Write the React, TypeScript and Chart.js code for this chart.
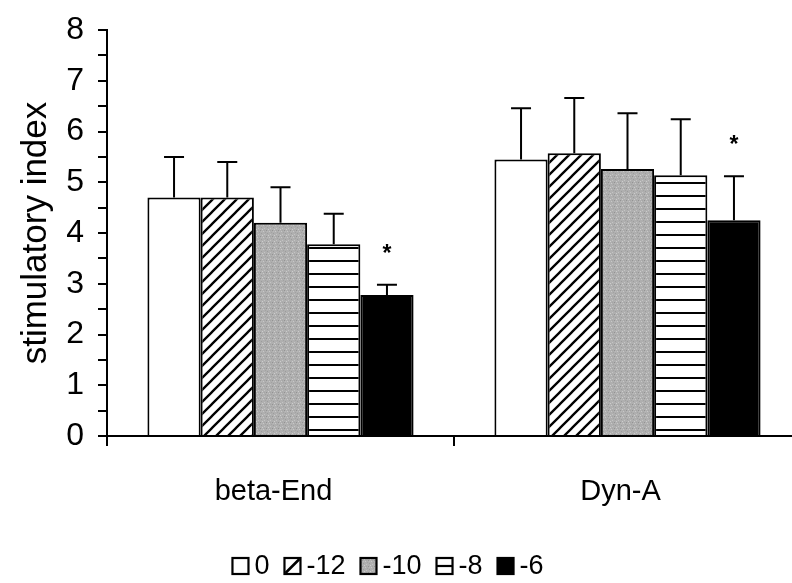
import React, { useEffect, useRef } from 'react';
import { Chart, registerables } from 'chart.js';

Chart.register(...registerables);

const FONT = '"Liberation Sans", Arial, Helvetica, sans-serif';

// ---- data ----
const categories = ['beta-End', 'Dyn-A'];
const seriesLabels = ['0', '-12', '-10', '-8', '-6'];
const values0 = [4.7, 5.45];
const values12 = [4.7, 5.57];
const values10 = [4.2, 5.26];
const values8 = [3.78, 5.14];
const values6 = [2.78, 4.25];
const errors0 = [0.8, 1.01];
const errors12 = [0.7, 1.09];
const errors10 = [0.7, 1.1];
const errors8 = [0.6, 1.1];
const errors6 = [0.2, 0.87];
const marks0 = ['', ''];
const marks12 = ['', ''];
const marks10 = ['', ''];
const marks8 = ['', ''];
const marks6 = ['*', '*'];
const yMin = 0;
const yMax = 8;
const yStep = 0.5;
const yTitle = 'stimulatory index';

const allValues = [values0, values12, values10, values8, values6];
const allErrors = [errors0, errors12, errors10, errors8, errors6];
const allMarks = [marks0, marks12, marks10, marks8, marks6];
const legendGlyphs = ['plain', 'diag', 'plain', 'hline', 'plain'];

function makeHatch(): CanvasPattern | string {
  const c = document.createElement('canvas');
  c.width = 12;
  c.height = 12;
  const g = c.getContext('2d');
  if (!g) return '#fff';
  g.fillStyle = '#fff';
  g.fillRect(0, 0, 12, 12);
  g.strokeStyle = '#000';
  g.lineWidth = 2.3;
  g.beginPath();
  g.moveTo(0, 12);
  g.lineTo(12, 0);
  g.moveTo(-3, 3);
  g.lineTo(3, -3);
  g.moveTo(9, 15);
  g.lineTo(15, 9);
  g.stroke();
  return g.createPattern(c, 'repeat') || '#fff';
}

function makeGray(): CanvasPattern | string {
  const c = document.createElement('canvas');
  c.width = 6;
  c.height = 6;
  const g = c.getContext('2d');
  if (!g) return '#adadad';
  g.fillStyle = '#afafaf';
  g.fillRect(0, 0, 6, 6);
  const specks: [number, number, string][] = [
    [0, 0, '#939393'], [3, 1, '#c8c8c8'], [1, 3, '#9c9c9c'],
    [4, 4, '#c4c4c4'], [5, 2, '#a2a2a2'], [2, 5, '#cdcdcd'],
    [1, 1, '#bababa'], [4, 0, '#a5a5a5'],
  ];
  specks.forEach(([x, y, col]) => {
    g.fillStyle = col;
    g.fillRect(x, y, 1, 1);
  });
  return g.createPattern(c, 'repeat') || '#afafaf';
}

function makeHorizontal(): CanvasPattern | string {
  const c = document.createElement('canvas');
  c.width = 4;
  c.height = 13;
  const g = c.getContext('2d');
  if (!g) return '#fff';
  g.fillStyle = '#fff';
  g.fillRect(0, 0, 4, 13);
  g.fillStyle = '#000';
  g.fillRect(0, 5, 4, 2);
  return g.createPattern(c, 'repeat') || '#fff';
}

const errorBarPlugin = {
  id: 'errorBars',
  afterDatasetsDraw(chart: any) {
    const ctx = chart.ctx as CanvasRenderingContext2D;
    const yScale = chart.scales.y;
    chart.data.datasets.forEach((_ds: any, i: number) => {
      const meta = chart.getDatasetMeta(i);
      meta.data.forEach((bar: any, j: number) => {
        const v = allValues[i][j];
        const e = allErrors[i][j];
        const yTop = yScale.getPixelForValue(v + e);
        ctx.save();
        ctx.strokeStyle = '#000';
        ctx.lineWidth = 2;
        ctx.beginPath();
        ctx.moveTo(bar.x, bar.y);
        ctx.lineTo(bar.x, yTop);
        ctx.moveTo(bar.x - 10, yTop);
        ctx.lineTo(bar.x + 10, yTop);
        ctx.stroke();
        const m = allMarks[i][j];
        if (m) {
          ctx.fillStyle = '#000';
          ctx.font = `bold 23px ${FONT}`;
          ctx.textAlign = 'center';
          ctx.textBaseline = 'alphabetic';
          ctx.fillText(m, bar.x, yTop - 24);
        }
        ctx.restore();
      });
    });
  },
};

const legendPlugin = {
  id: 'patternLegend',
  afterDraw(chart: any) {
    const ctx = chart.ctx as CanvasRenderingContext2D;
    const box = 16;
    const gapText = 6;
    const gapItem = 15;
    const cx = 380;
    const cy = 558;
    ctx.save();
    ctx.font = `27px ${FONT}`;
    const items = chart.data.datasets.map((ds: any, i: number) => ({
      label: String(ds.label),
      w: ctx.measureText(String(ds.label)).width,
      fill: ds.backgroundColor,
      glyph: legendGlyphs[i],
    }));
    const total =
      items.reduce((s: number, it: any) => s + box + gapText + it.w, 0) + gapItem * (items.length - 1);
    let x = cx - total / 2;
    items.forEach((it: any) => {
      const top = cy - box / 2;
      ctx.lineWidth = 2.2;
      ctx.strokeStyle = '#000';
      if (it.glyph === 'diag') {
        ctx.fillStyle = '#fff';
        ctx.fillRect(x, top, box, box);
        ctx.beginPath();
        ctx.moveTo(x + 1, top + box - 1);
        ctx.lineTo(x + box - 1, top + 1);
        ctx.lineWidth = 2.5;
        ctx.stroke();
        ctx.lineWidth = 2.2;
      } else if (it.glyph === 'hline') {
        ctx.fillStyle = '#fff';
        ctx.fillRect(x, top, box, box);
        ctx.beginPath();
        ctx.moveTo(x, top + box / 2);
        ctx.lineTo(x + box, top + box / 2);
        ctx.stroke();
      } else {
        ctx.fillStyle = it.fill;
        ctx.fillRect(x, top, box, box);
      }
      ctx.strokeRect(x, top, box, box);
      x += box + gapText;
      ctx.fillStyle = '#000';
      ctx.textAlign = 'left';
      ctx.textBaseline = 'middle';
      ctx.fillText(it.label, x, cy + 1);
      x += it.w + gapItem;
    });
    ctx.restore();
  },
};

export default function App() {
  const ref = useRef<HTMLCanvasElement>(null);

  useEffect(() => {
    if (!ref.current) return;
    Chart.defaults.font.family = FONT;
    Chart.defaults.color = '#000';
    const fills = ['#ffffff', makeHatch(), makeGray(), makeHorizontal(), '#000000'];
    const chart = new Chart(ref.current, {
      type: 'bar',
      data: {
        labels: categories,
        datasets: seriesLabels.map((label, i) => ({
          label,
          data: allValues[i],
          backgroundColor: fills[i] as any,
          borderColor: '#000',
          borderWidth: 2,
          categoryPercentage: 0.767,
          barPercentage: 1.0,
        })),
      },
      options: {
        animation: false,
        responsive: false,
        events: [],
        layout: { padding: { top: 22, left: 0, right: 0, bottom: 0 } },
        plugins: {
          tooltip: { enabled: false },
          legend: { display: false },
        },
        scales: {
          x: {
            type: 'category',
            offset: true,
            grid: {
              offset: true,
              drawOnChartArea: false,
              drawTicks: true,
              tickLength: 10,
              color: '#000',
              lineWidth: 2,
            },
            border: { display: true, color: '#000', width: 2 },
            ticks: {
              color: '#000',
              padding: 29,
              labelOffset: -7,
              font: { family: FONT, size: 29 },
              maxRotation: 0,
            },
            afterFit: (scale: any) => {
              scale.height = 147;
            },
          },
          y: {
            type: 'linear',
            min: yMin,
            max: yMax,
            grid: {
              drawOnChartArea: false,
              drawTicks: true,
              tickLength: 9,
              color: '#000',
              lineWidth: 2,
            },
            border: { display: true, color: '#000', width: 2 },
            ticks: {
              stepSize: yStep,
              autoSkip: false,
              padding: 14,
              color: '#000',
              font: { family: FONT, size: 32 },
              callback: (v: any) => (Number.isInteger(Number(v)) ? String(v) : ''),
            },
            title: {
              display: true,
              text: yTitle,
              color: '#000',
              font: { family: FONT, size: 35 },
              padding: { top: 7, bottom: 0 },
            },
            afterFit: (scale: any) => {
              scale.width = 99;
              scale.paddingTop = 17;
              scale.paddingBottom = 17;
            },
          },
        },
      },
      plugins: [errorBarPlugin, legendPlugin],
    });
    return () => chart.destroy();
  }, []);

  return (
    <div
      style={{
        position: 'fixed',
        left: 0,
        top: 0,
        width: 792,
        height: 583,
        overflow: 'hidden',
        background: '#fff',
      }}
    >
      <canvas
        ref={ref}
        width={793}
        height={575}
        style={{ position: 'absolute', left: 8, top: 8, display: 'block', width: 793, height: 575 }}
      />
    </div>
  );
}
